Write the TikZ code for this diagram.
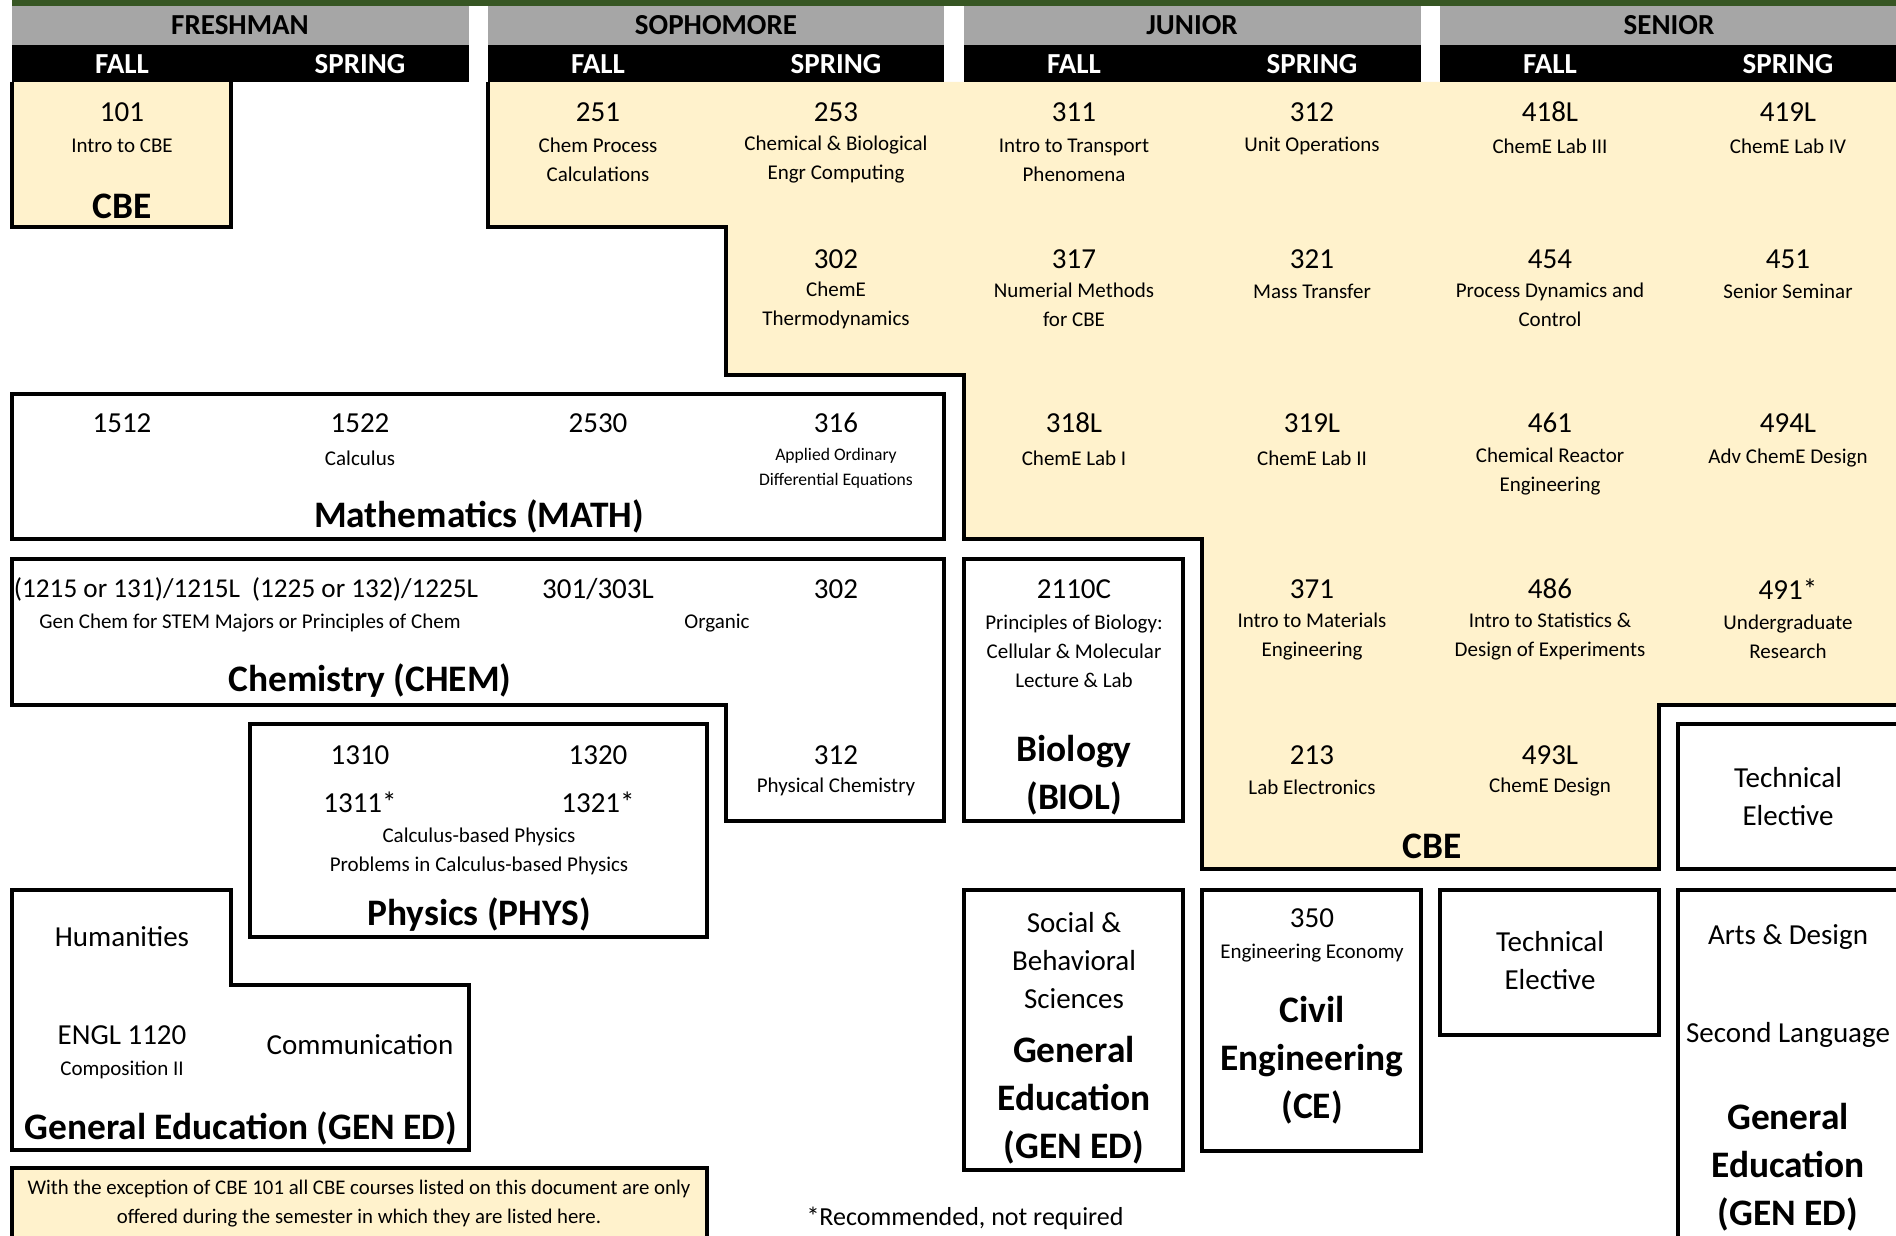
\documentclass[tikz,border=0pt]{standalone}
\usepackage{fontspec}
\setmainfont{Carlito}
\usepackage{xcolor}
\usepackage{tikz}
\usetikzlibrary{positioning}

\definecolor{cbefill}{HTML}{FFF2CC}
\definecolor{hdrgray}{HTML}{A6A6A6}
\definecolor{topgreen}{HTML}{375623}

\begin{document}
\begin{tikzpicture}[x=0.5pt, y=-0.5pt,
        every node/.style={inner sep=0pt},
        yearhdr/.style={font=\bfseries\fontsize{14.5}{17}\selectfont},
        semhdr/.style={font=\bfseries\fontsize{14.5}{17}\selectfont, text=white},
        crsnum/.style={font=\fontsize{14.5}{17}\selectfont},
        crsname/.style={font=\fontsize{10.5}{14.5}\selectfont, align=center},
        crssmall/.style={font=\fontsize{8.8}{12.5}\selectfont, align=center},
        dept/.style={font=\bfseries\fontsize{18.7}{24}\selectfont, align=center},
        elec/.style={font=\fontsize{14.5}{19}\selectfont, align=center},
        region/.style={draw=black, line width=1.6pt},
        cberegion/.style={fill=cbefill}]

        \useasboundingbox (0,0) rectangle (1896,1236);
        \clip (0,0) rectangle (1896,1236);

        % CBE blocks
        \fill[cberegion] (12,82) rectangle (231,227);
        \draw[region] (12,82) -- (12,227) -- (231,227) -- (231,82);
        \fill[cberegion] (488,82) -- (488,227) -- (726,227) -- (726,375) -- (964,375) -- (964,539)
            -- (1202,539) -- (1202,869) -- (1659,869) -- (1659,705) -- (1910,705) -- (1910,82) -- cycle;
        \draw[region] (488,82) -- (488,227) -- (726,227) -- (726,375) -- (964,375) -- (964,539)
            -- (1202,539) -- (1202,869) -- (1659,869) -- (1659,705) -- (1910,705);

        % Other departments
        \draw[region] (12,394) rectangle (944,539);
        \draw[region] (12,559) -- (944,559) -- (944,821) -- (726,821) -- (726,705) -- (12,705) -- cycle;
        \draw[region] (964,559) rectangle (1183,821);
        \draw[region] (250,724) rectangle (707,937);
        \draw[region] (1678,724) rectangle (1910,869);
        \draw[region] (12,890) -- (231,890) -- (231,985) -- (469,985) -- (469,1150) -- (12,1150) -- cycle;
        \draw[region] (964,890) rectangle (1183,1170);
        \draw[region] (1202,890) rectangle (1421,1151);
        \draw[region] (1440,890) rectangle (1659,1035);
        \draw[region] (1678,890) rectangle (1910,1250);
        \draw[region, line width=2.4pt, fill=cbefill] (12,1168) rectangle (707,1250);

        % Header
        \fill[topgreen] (12,0) rectangle (1910,6);
        \fill[hdrgray] (12,6) rectangle (469,45);
        \fill[hdrgray] (488,6) rectangle (944,45);
        \fill[hdrgray] (964,6) rectangle (1421,45);
        \fill[hdrgray] (1440,6) rectangle (1910,45);
        \fill[black] (12,45) rectangle (469,82);
        \fill[black] (488,45) rectangle (944,82);
        \fill[black] (964,45) rectangle (1421,82);
        \fill[black] (1440,45) rectangle (1910,82);

        \node[yearhdr] (yrfresh) at (240,25) {FRESHMAN};
        \node[yearhdr] (yrsoph) at (716,25) {SOPHOMORE};
        \node[yearhdr] (yrjun) at (1192,25) {JUNIOR};
        \node[yearhdr] (yrsen) at (1669,25) {SENIOR};
        \node[semhdr] (fall1) at (122,64) {FALL};
        \node[semhdr] (spring1) at (360,64) {SPRING};
        \node[semhdr] (fall2) at (598,64) {FALL};
        \node[semhdr] (spring2) at (836,64) {SPRING};
        \node[semhdr] (fall3) at (1074,64) {FALL};
        \node[semhdr] (spring3) at (1312,64) {SPRING};
        \node[semhdr] (fall4) at (1550,64) {FALL};
        \node[semhdr] (spring4) at (1788,64) {SPRING};

        % CBE courses
        \node[crsnum] (c101) at (122,112) {101};
        \node[crsname] (c101t) at (122,146) {Intro to CBE};
        \node[dept] (c101d) at (122,206) {CBE};
        \node[crsnum] (c251) at (598,112) {251};
        \node[crsname] (c251t) at (598,160) {Chem Process\\Calculations};
        \node[crsnum] (c253) at (836,112) {253};
        \node[crsname] (c253t) at (836,160) {Chemical \& Biological\\Engr Computing};
        \node[crsnum] (c311) at (1074,112) {311};
        \node[crsname] (c311t) at (1074,160) {Intro to Transport\\Phenomena};
        \node[crsnum] (c312) at (1312,112) {312};
        \node[crsname] (c312t) at (1312,146) {Unit Operations};
        \node[crsnum] (c418) at (1550,112) {418L};
        \node[crsname] (c418t) at (1550,146) {ChemE Lab III};
        \node[crsnum] (c419) at (1788,112) {419L};
        \node[crsname] (c419t) at (1788,146) {ChemE Lab IV};

        \node[crsnum] (c302) at (836,259) {302};
        \node[crsname] (c302t) at (836,305) {ChemE\\Thermodynamics};
        \node[crsnum] (c317) at (1074,259) {317};
        \node[crsname] (c317t) at (1074,305) {Numerial Methods\\for CBE};
        \node[crsnum] (c321) at (1312,259) {321};
        \node[crsname] (c321t) at (1312,291) {Mass Transfer};
        \node[crsnum] (c454) at (1550,259) {454};
        \node[crsname] (c454t) at (1550,305) {Process Dynamics and\\Control};
        \node[crsnum] (c451) at (1788,259) {451};
        \node[crsname] (c451t) at (1788,291) {Senior Seminar};

        \node[crsnum] (c318) at (1074,423) {318L};
        \node[crsname] (c318t) at (1074,458) {ChemE Lab I};
        \node[crsnum] (c319) at (1312,423) {319L};
        \node[crsname] (c319t) at (1312,458) {ChemE Lab II};
        \node[crsnum] (c461) at (1550,423) {461};
        \node[crsname] (c461t) at (1550,472) {Chemical Reactor\\Engineering};
        \node[crsnum] (c494) at (1788,423) {494L};
        \node[crsname] (c494t) at (1788,458) {Adv ChemE Design};

        \node[crsnum] (c371) at (1312,589) {371};
        \node[crsname] (c371t) at (1312,637) {Intro to Materials\\Engineering};
        \node[crsnum] (c486) at (1550,589) {486};
        \node[crsname] (c486t) at (1550,637) {Intro to Statistics \&\\Design of Experiments};
        \node[crsnum] (c491) at (1788,589) {491*};
        \node[crsname] (c491t) at (1788,637) {Undergraduate\\Research};

        \node[crsnum] (c213) at (1312,755) {213};
        \node[crsname] (c213t) at (1312,787) {Lab Electronics};
        \node[crsnum] (c493) at (1550,755) {493L};
        \node[crsname] (c493t) at (1550,787) {ChemE Design};
        \node[dept] (cbed) at (1432,846) {CBE};

        % Mathematics
        \node[crsnum] (m1512) at (122,423) {1512};
        \node[crsnum] (m1522) at (360,423) {1522};
        \node[crsname] (m1522t) at (360,458) {Calculus};
        \node[crsnum] (m2530) at (598,423) {2530};
        \node[crsnum] (m316) at (836,423) {316};
        \node[crssmall] (m316t) at (836,468) {Applied Ordinary\\Differential Equations};
        \node[dept] (mathd) at (479,516) {Mathematics (MATH)};

        % Chemistry
        \node[crsnum, font=\fontsize{13.6}{17}\selectfont] (ch1215) at (127,589) {(1215 or 131)/1215L};
        \node[crsnum, font=\fontsize{13.6}{17}\selectfont] (ch1225) at (365,589) {(1225 or 132)/1225L};
        \node[crsname] (ch1215t) at (250,623) {Gen Chem for STEM Majors or Principles of Chem};
        \node[crsnum] (ch301) at (598,589) {301/303L};
        \node[crsnum] (ch302) at (836,589) {302};
        \node[crsname] (chorg) at (717,623) {Organic};
        \node[dept] (chemd) at (370,681) {Chemistry (CHEM)};
        \node[crsnum] (ch312) at (836,755) {312};
        \node[crsname] (ch312t) at (836,787) {Physical Chemistry};

        % Biology
        \node[crsnum] (b2110) at (1074,589) {2110C};
        \node[crsname] (b2110t) at (1074,651) {Principles of Biology:\\Cellular \& Molecular\\Lecture \& Lab};
        \node[dept] (biold) at (1074,775) {Biology\\(BIOL)};

        % Physics
        \node[crsnum] (p1310) at (360,755) {1310};
        \node[crsnum] (p1320) at (598,755) {1320};
        \node[crsnum] (p1311) at (360,802) {1311*};
        \node[crsnum] (p1321) at (598,802) {1321*};
        \node[crsname] (phyt) at (479,851) {Calculus-based Physics\\Problems in Calculus-based Physics};
        \node[dept] (physd) at (479,915) {Physics (PHYS)};

        % Electives and general education
        \node[elec] (tech1) at (1788,797) {Technical\\Elective};
        \node[elec] (hum) at (122,937) {Humanities};
        \node[crsnum] (engl) at (122,1035) {ENGL 1120};
        \node[crsname] (englt) at (122,1070) {Composition II};
        \node[elec] (comm) at (360,1045) {Communication};
        \node[dept] (gened1) at (241,1128) {General Education (GEN ED)};
        \node[elec] (soc) at (1074,961) {Social \&\\Behavioral\\Sciences};
        \node[dept] (gened2) at (1074,1100) {General\\Education\\(GEN ED)};
        \node[crsnum] (ce350) at (1312,918) {350};
        \node[crsname] (ce350t) at (1312,953) {Engineering Economy};
        \node[dept] (ced) at (1312,1060) {Civil\\Engineering\\(CE)};
        \node[elec] (tech2) at (1550,961) {Technical\\Elective};
        \node[elec] (arts) at (1788,937) {Arts \& Design};
        \node[elec] (lang) at (1788,1035) {Second Language};
        \node[dept] (gened3) at (1788,1167) {General\\Education\\(GEN ED)};

        % Notes
        \node[crsname, font=\fontsize{10.4}{14.5}\selectfont] (note) at (359,1204) {With the exception of CBE 101 all CBE courses listed on this document are only\\offered during the semester in which they are listed here.};
        \node[font=\fontsize{13}{16}\selectfont] (recnote) at (965,1218) {*Recommended, not required};

    \end{tikzpicture}
\end{document}
